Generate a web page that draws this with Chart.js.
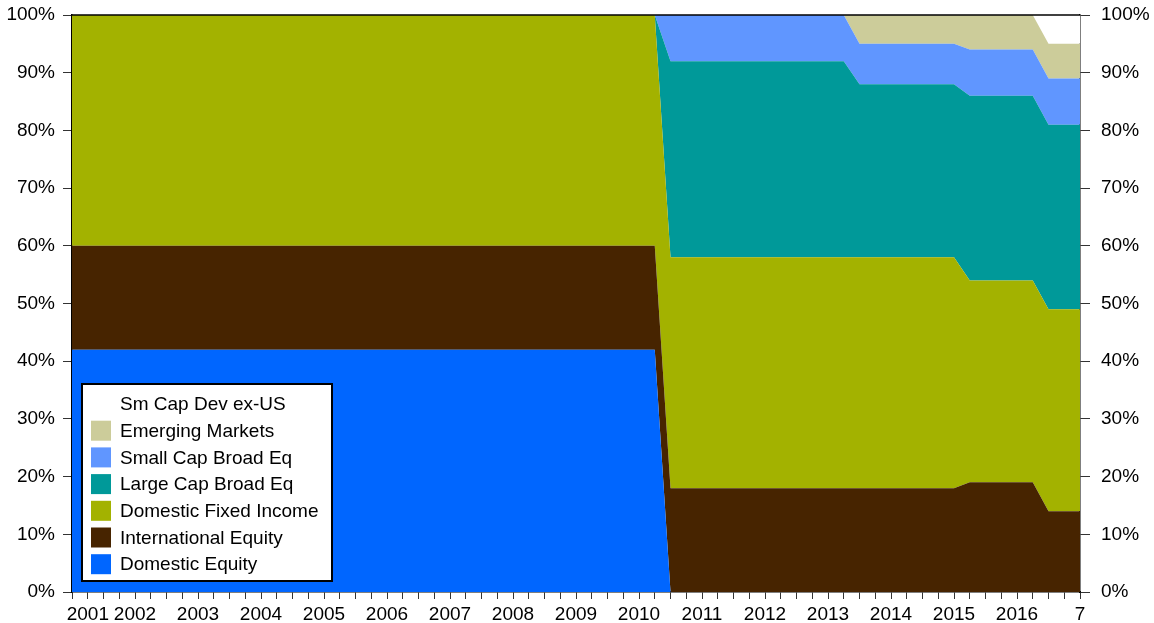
<!DOCTYPE html>
<html>
<head>
<meta charset="utf-8">
<script src="https://cdn.jsdelivr.net/npm/chart.js@4.4.1/dist/chart.umd.min.js"></script>
<style>
  body { margin: 0; background: #fff; }
  #chart { display: block; }
</style>
</head>
<body>
<canvas id="chart" width="1154" height="623"></canvas>
<script>
// dates (decimal years) where the allocation changes
const fechas = [2001, 2010.25, 2010.5, 2013.25, 2013.5, 2015, 2015.25, 2016.25, 2016.5, 2017]

// % of portfolio per asset class
const domesticEquity = [42, 42, 0, 0, 0, 0, 0, 0, 0, 0]
const internationalEquity = [18, 18, 18, 18, 18, 18, 19, 19, 14, 14]
const domesticFixedIncome = [40, 40, 40, 40, 40, 40, 35, 35, 35, 35]
const largeCapBroad = [0, 0, 34, 34, 30, 30, 32, 32, 32, 32]
const smallCapBroad = [0, 0, 8, 8, 7, 7, 8, 8, 8, 8]
const emergingMarkets = [0, 0, 0, 0, 5, 5, 6, 6, 6, 6]
const smCapDevExUS = [0, 0, 0, 0, 0, 0, 0, 0, 5, 5]

const seriesNames = ['Domestic Equity', 'International Equity', 'Domestic Fixed Income',
  'Large Cap Broad Eq', 'Small Cap Broad Eq', 'Emerging Markets', 'Sm Cap Dev ex-US']
const seriesColors = ['#0066ff', '#472400', '#a3b200', '#009999', '#6096ff', '#cccc9a', '#ffffff']

const yearLabels = ['2001', '2002', '2003', '2004', '2005', '2006', '2007', '2008', '2009',
  '2010', '2011', '2012', '2013', '2014', '2015', '2016', '7']
const yTicks = [0, 10, 20, 30, 40, 50, 60, 70, 80, 90, 100]

const FONT = "'Liberation Sans', Arial, sans-serif"

const toPoints = (vals) => fechas.map((f, i) => ({ x: f, y: vals[i] }))

const allSeries = [domesticEquity, internationalEquity, domesticFixedIncome,
  largeCapBroad, smallCapBroad, emergingMarkets, smCapDevExUS]

const datasets = allSeries.map((vals, i) => ({
  label: seriesNames[i],
  data: toPoints(vals),
  backgroundColor: seriesColors[i],
  borderColor: seriesColors[i],
  borderWidth: 0,
  pointRadius: 0,
  tension: 0,
  fill: i === 0 ? 'origin' : '-1'
}))

// legend box + top border drawn by hand
const legendBox = {
  id: 'legendBox',
  afterDraw(chart) {
    const ctx = chart.ctx
    const area = chart.chartArea
    ctx.save()
    ctx.strokeStyle = '#000'
    ctx.lineWidth = 1.5
    ctx.beginPath()
    ctx.moveTo(area.left, area.top)
    ctx.lineTo(area.right, area.top)
    ctx.stroke()

    const x0 = area.left + 10, y0 = 384, w = 250, h = 197
    ctx.fillStyle = '#fff'
    ctx.fillRect(x0, y0, w, h)
    ctx.lineWidth = 2
    ctx.strokeRect(x0, y0, w, h)
    ctx.font = '19px ' + FONT
    ctx.textBaseline = 'middle'
    const ds = chart.data.datasets.slice().reverse()
    ds.forEach((d, i) => {
      const cy = y0 + 20 + i * 26.7
      ctx.fillStyle = d.backgroundColor
      ctx.fillRect(x0 + 9, cy - 10, 20, 20)
      ctx.fillStyle = '#000'
      ctx.fillText(d.label, x0 + 38, cy + 1)
    })
    ctx.restore()
  }
}

const yearOf = (v) => Math.round(v)
const isYear = (v) => Math.abs(v - Math.round(v)) < 1e-6

const fitY = (w) => (scale) => {
  scale.width = w
  scale.paddingTop = 0
  scale.paddingBottom = 0
}

new Chart(document.getElementById('chart'), {
  type: 'line',
  data: { datasets: datasets },
  options: {
    responsive: false,
    animation: false,
    layout: { padding: { top: 15 } },
    plugins: { legend: { display: false }, tooltip: { enabled: false } },
    scales: {
      x: {
        type: 'linear',
        min: 2001,
        max: 2017,
        afterBuildTicks(scale) {
          const t = []
          for (let q = 0; q <= 64; q++) t.push({ value: 2001 + q / 4 })
          scale.ticks = t
        },
        afterFit(scale) { scale.height = 31 },
        border: { display: true, color: '#000', width: 1.5 },
        grid: { drawOnChartArea: false, drawTicks: true, tickLength: 7, color: '#333', lineWidth: 1 },
        ticks: {
          autoSkip: false,
          maxRotation: 0,
          padding: 4,
          color: '#000',
          font: { family: FONT, size: 19 },
          callback(v) {
            if (!isYear(v)) return ''
            const lab = yearLabels[yearOf(v) - 2001]
            return yearOf(v) === 2001 ? '      ' + lab : lab
          }
        }
      },
      y: {
        stacked: true,
        min: 0,
        max: 100,
        afterFit: fitY(72),
        afterBuildTicks(scale) { scale.ticks = yTicks.map(v => ({ value: v })) },
        border: { display: true, color: '#000', width: 1.5 },
        grid: { drawOnChartArea: false, tickLength: 9, color: '#333' },
        ticks: { padding: 8, color: '#000', font: { family: FONT, size: 19 }, callback: v => v + '%' }
      },
      y2: {
        position: 'right',
        min: 0,
        max: 100,
        afterFit: fitY(74),
        afterBuildTicks(scale) { scale.ticks = yTicks.map(v => ({ value: v })) },
        border: { display: true, color: '#000', width: 1.5 },
        grid: { drawOnChartArea: false, tickLength: 10, color: '#333' },
        ticks: { padding: 11, color: '#000', font: { family: FONT, size: 19 }, callback: v => v + '%' }
      }
    }
  },
  plugins: [legendBox]
})
</script>
</body>
</html>
